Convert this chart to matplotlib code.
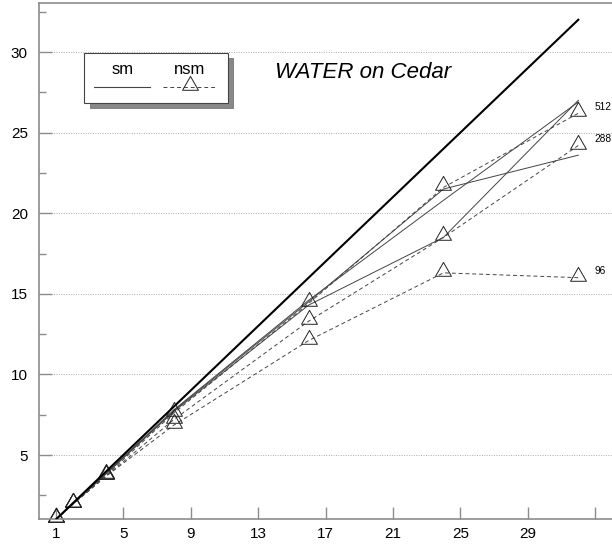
import numpy as np
import matplotlib.pyplot as plt
from matplotlib.path import Path
from matplotlib.patches import Rectangle
from matplotlib.lines import Line2D
from matplotlib.ticker import MultipleLocator

plt.rcParams['font.family'] = ['Liberation Sans', 'DejaVu Sans']

# processors and speedups
procs = [1, 2, 4, 8, 16, 24, 32]
ideal = [1, 2, 4, 8, 16, 24, 32]

# sm (solid, no markers)
sm_512 = [1.0, 1.95, 3.9, 7.8, 14.6, 20.8, 26.9]
sm_288 = [1.0, 1.95, 3.85, 7.7, 14.3, 18.5, 27.0]
sm_96 = [1.0, 1.95, 3.85, 7.75, 14.5, 21.5, 23.6]

# nsm (dashed, triangles)
nsm_512 = [1.0, 1.95, 3.75, 7.6, 14.4, 21.6, 26.2]
nsm_288 = [1.0, 1.95, 3.7, 7.2, 13.3, 18.5, 24.2]
nsm_96 = [1.0, 1.95, 3.7, 6.85, 12.1, 16.3, 16.0]
nsm_labels = ['512', '288', '96']

xticks = [1, 5, 9, 13, 17, 21, 25, 29, 33]
xtick_labels = ['1', '5', '9', '13', '17', '21', '25', '29', '']
yticks = [5, 10, 15, 20, 25, 30]

W, H = 612, 552
fig = plt.figure(figsize=(W / 100, H / 100), dpi=100)
ax = fig.add_axes([39 / W, (H - 519) / H, (W - 39) / W, (519 - 3) / H])

# triangle with the data point a bit above the base
tri = Path([(-1, -0.35), (1, -0.35), (0, 1.4), (-1, -0.35)],
           [Path.MOVETO, Path.LINETO, Path.LINETO, Path.CLOSEPOLY])

ax.plot(procs, ideal, color='black', lw=1.5, zorder=3)

for s in [sm_512, sm_288, sm_96]:
    ax.plot(procs, s, color='#444444', lw=0.7, zorder=2)

for s, lab in zip([nsm_512, nsm_288, nsm_96], nsm_labels):
    ax.plot(procs, s, color='#444444', lw=0.7, ls=(0, (4, 3)), zorder=2,
            marker=tri, markersize=16, markerfacecolor='none',
            markeredgecolor='#222222', markeredgewidth=0.7, clip_on=False)
    ax.annotate(lab, (procs[-1], s[-1]), xytext=(11.8, 4.5), textcoords='offset points',
                fontsize=7.3, va='center', ha='left')

ax.set_xlim(0, 34)
ax.set_ylim(1.03, 33.04)
ax.set_xticks(xticks)
ax.set_xticklabels(xtick_labels)
ax.set_yticks(yticks)
ax.yaxis.set_minor_locator(MultipleLocator(2.5))

spine_col = '#8c8c8c'
for side in ['left', 'bottom', 'top']:
    ax.spines[side].set_color(spine_col)
    ax.spines[side].set_linewidth(1.2)
ax.spines['right'].set_visible(False)

ax.tick_params(axis='both', which='major', direction='in', length=9, width=1,
               color=spine_col, labelsize=11)
ax.tick_params(axis='y', which='minor', direction='in', length=5, width=1, color=spine_col)
ax.tick_params(axis='y', which='major', pad=8)
ax.tick_params(axis='x', which='major', pad=6)

ax.yaxis.grid(True, which='major', color='#aaaaaa', ls=(0, (1, 1.5)), lw=0.7)
ax.set_axisbelow(True)

# legend box with shadow
def fx(x):
    return x / W

def fy(y):
    return 1 - y / H

fig.patches.append(Rectangle((fx(90), fy(108)), fx(233) - fx(90), fy(58) - fy(108),
                             transform=fig.transFigure, facecolor='#888888',
                             edgecolor='#666666', lw=0.5, zorder=5))
fig.patches.append(Rectangle((fx(84), fy(103)), fx(228) - fx(84), fy(53) - fy(103),
                             transform=fig.transFigure, facecolor='white',
                             edgecolor='#444444', lw=0.8, zorder=6))
fig.text(fx(123), fy(69), 'sm', fontsize=12, ha='center', va='center', zorder=7)
fig.text(fx(190), fy(69), 'nsm', fontsize=12, ha='center', va='center', zorder=7)
fig.lines.append(Line2D([fx(94), fx(150)], [fy(87), fy(87)], transform=fig.transFigure,
                        color='#444444', lw=0.8, zorder=7))
fig.lines.append(Line2D([fx(163), fx(217)], [fy(87), fy(87)], transform=fig.transFigure,
                        color='#444444', lw=0.7, ls=(0, (4, 3)), zorder=7))
fig.lines.append(Line2D([fx(190)], [fy(87)], transform=fig.transFigure,
                        marker=tri, markersize=16, markerfacecolor='none',
                        markeredgecolor='#222222', markeredgewidth=0.7, zorder=7))

fig.text(fx(275), fy(72), 'WATER on Cedar', fontsize=16, style='italic',
         ha='left', va='center')

fig.savefig('out.png', dpi=100)
